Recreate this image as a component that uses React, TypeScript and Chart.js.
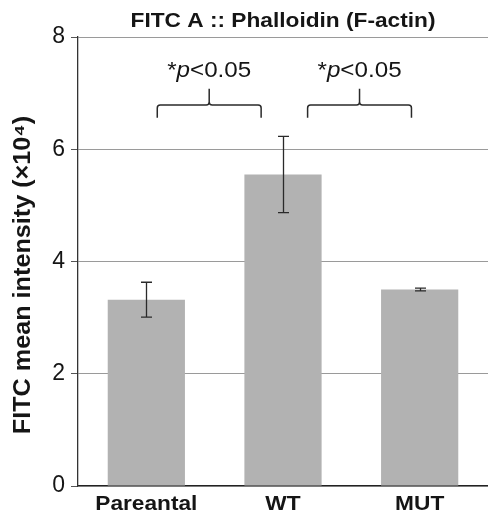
import React, { useEffect, useRef } from "react";
import { Chart, registerables } from "chart.js";

Chart.register(...registerables);

const categories = ["Pareantal", "WT", "MUT"];
const means = [3.32, 5.55, 3.5];
const errors = [0.31, 0.68, 0.025];
const yTicks = [0, 2, 4, 6, 8];
const chartTitle = "FITC A :: Phalloidin (F-actin)";
const yTitle = "FITC mean intensity (×10⁴)";

// significance brackets (in category / value units)
const braceStart = [0.08, 1.18];
const braceEnd = [0.84, 1.94];
const braceLevel = [6.79, 6.79];
const braceTip = [7.08, 7.08];
const braceFoot = [6.56, 6.56];
const sigLabelLevel = [7.28, 7.28];
const sigStar = "*";
const sigP = "p";
const sigRest = "<0.05";

const FONT = "'Liberation Sans', Arial, Helvetica, sans-serif";
const INK = "#151515";
const STRETCH = 1.08;

function stretchedText(
  ctx: CanvasRenderingContext2D,
  text: string,
  font: string,
  x: number,
  y: number,
  sx: number
) {
  ctx.save();
  ctx.font = font;
  ctx.translate(x, y);
  ctx.scale(sx, 1);
  ctx.textAlign = "center";
  ctx.textBaseline = "alphabetic";
  ctx.fillStyle = INK;
  ctx.fillText(text, 0, 0);
  ctx.restore();
}

const errorBarPlugin = {
  id: "errorBars",
  afterDatasetsDraw(chart: any) {
    const { ctx } = chart;
    const meta = chart.getDatasetMeta(0);
    const y = chart.scales.y;
    ctx.save();
    ctx.strokeStyle = "#2a2a2a";
    ctx.lineWidth = 1.3;
    meta.data.forEach((bar: any, i: number) => {
      const x = Math.round(bar.x) + 0.5;
      const top = y.getPixelForValue(means[i] + errors[i]);
      const bot = y.getPixelForValue(means[i] - errors[i]);
      const cap = 5.5;
      ctx.beginPath();
      ctx.moveTo(x, top);
      ctx.lineTo(x, bot);
      ctx.moveTo(x - cap, top);
      ctx.lineTo(x + cap, top);
      ctx.moveTo(x - cap, bot);
      ctx.lineTo(x + cap, bot);
      ctx.stroke();
    });
    ctx.restore();
  },
};

const textPlugin = {
  id: "texts",
  afterDraw(chart: any) {
    const { ctx, chartArea } = chart;
    const xs = chart.scales.x;
    // title
    stretchedText(
      ctx,
      chartTitle,
      `bold 21px ${FONT}`,
      (chartArea.left + chartArea.right) / 2,
      27,
      STRETCH
    );
    // y title
    ctx.save();
    ctx.translate(30, 275);
    ctx.rotate(-Math.PI / 2);
    ctx.font = `bold 24px ${FONT}`;
    ctx.scale(1.05, 1);
    ctx.textAlign = "center";
    ctx.textBaseline = "alphabetic";
    ctx.fillStyle = INK;
    ctx.fillText(yTitle, 0, 0);
    ctx.restore();
    // x category labels
    categories.forEach((c, i) => {
      stretchedText(ctx, c, `bold 21px ${FONT}`, xs.getPixelForValue(i), 510, STRETCH);
    });
  },
};

const bracePlugin = {
  id: "braces",
  afterDraw(chart: any) {
    const { ctx } = chart;
    const xs = chart.scales.x;
    const ys = chart.scales.y;
    ctx.save();
    ctx.strokeStyle = "#2a2a2a";
    ctx.lineWidth = 1.5;
    braceStart.forEach((s, i) => {
      const xL = xs.getPixelForValue(s);
      const xR = xs.getPixelForValue(braceEnd[i]);
      const xM = (xL + xR) / 2;
      const yH = ys.getPixelForValue(braceLevel[i]);
      const yT = ys.getPixelForValue(braceTip[i]);
      const yF = ys.getPixelForValue(braceFoot[i]);
      const r = 3;
      ctx.beginPath();
      ctx.moveTo(xL, yF);
      ctx.lineTo(xL, yH + r);
      ctx.quadraticCurveTo(xL, yH, xL + r, yH);
      ctx.lineTo(xM - r, yH);
      ctx.quadraticCurveTo(xM, yH, xM, yH - r);
      ctx.lineTo(xM, yT);
      ctx.moveTo(xM, yH - r);
      ctx.quadraticCurveTo(xM, yH, xM + r, yH);
      ctx.lineTo(xR - r, yH);
      ctx.quadraticCurveTo(xR, yH, xR, yH + r);
      ctx.lineTo(xR, yF);
      ctx.stroke();

      // label
      const base = ys.getPixelForValue(sigLabelLevel[i]);
      const normal = `22px ${FONT}`;
      const italic = `italic 22px ${FONT}`;
      ctx.font = normal;
      const wStar = ctx.measureText(sigStar).width;
      const wRest = ctx.measureText(sigRest).width;
      ctx.font = italic;
      const wP = ctx.measureText(sigP).width;
      const sx = 1.1;
      ctx.save();
      ctx.translate(xM, base);
      ctx.scale(sx, 1);
      let x = -(wStar + wP + wRest) / 2;
      ctx.fillStyle = INK;
      ctx.textBaseline = "alphabetic";
      ctx.textAlign = "left";
      ctx.font = normal;
      ctx.fillText(sigStar, x, 0);
      x += wStar;
      ctx.font = italic;
      ctx.fillText(sigP, x, 0);
      x += wP;
      ctx.font = normal;
      ctx.fillText(sigRest, x, 0);
      ctx.restore();
    });
    ctx.restore();
  },
};

export default function App() {
  const ref = useRef<HTMLCanvasElement>(null);
  useEffect(() => {
    document.body.style.margin = "0";
    const canvas = ref.current!;
    const chart = new Chart(canvas, {
      type: "bar",
      data: {
        labels: categories,
        datasets: [
          {
            data: means,
            backgroundColor: "#b2b2b2",
            borderWidth: 0,
            barPercentage: 0.565,
            categoryPercentage: 1,
          },
        ],
      },
      options: {
        responsive: false,
        animation: false,
        devicePixelRatio: 1,
        layout: { padding: { top: 37, left: 0, right: 0, bottom: 0 } },
        plugins: {
          legend: { display: false },
          tooltip: { enabled: false },
          title: { display: false },
        },
        scales: {
          x: {
            grid: { display: false, drawTicks: false },
            border: { display: true, color: "#222", width: 1.3 },
            ticks: { display: false },
            afterFit(scale: any) {
              scale.height = 27;
            },
          },
          y: {
            min: 0,
            max: 8,
            afterBuildTicks(scale: any) {
              scale.ticks = yTicks.map((v) => ({ value: v }));
            },
            grid: {
              color: "#9a9a9a",
              lineWidth: 1,
              drawTicks: true,
              tickLength: 7,
              tickColor: "#555",
            },
            border: { display: true, color: "#333", width: 1.3 },
            ticks: {
              color: INK,
              padding: 6,
              font: { family: FONT, size: 23, lineHeight: 1.2 },
            },
            title: { display: false },
            afterFit(scale: any) {
              scale.width = 78;
            },
          },
        },
      },
      plugins: [errorBarPlugin, bracePlugin, textPlugin],
    });
    return () => chart.destroy();
  }, []);
  return (
    <canvas
      ref={ref}
      width={488}
      height={513}
      style={{ display: "block", width: 488, height: 513 }}
    />
  );
}
